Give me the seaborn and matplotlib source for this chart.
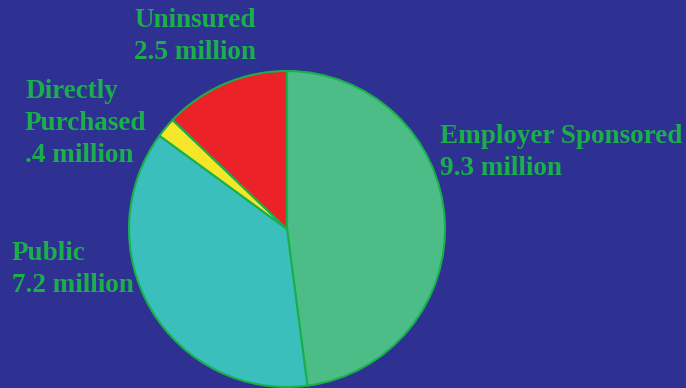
import matplotlib
matplotlib.use("Agg")
import matplotlib.pyplot as plt
import seaborn as sns

# Health coverage by source (millions of people)
categories = ["Employer Sponsored", "Public", "Directly\nPurchased", "Uninsured"]
values = [9.3, 7.2, 0.4, 2.5]
value_labels = ["9.3 million", "7.2 million", ".4 million", "2.5 million"]
colors = ["#4DBD88", "#3BBFBC", "#F5E629", "#EC2229"]

BG = "#2E3192"
TEXT = "#1BAF4B"
EDGE = "#18B04A"

sns.set_style("white")
plt.rcParams["font.family"] = ["Liberation Serif", "DejaVu Serif"]

W, H = 686, 388
fig = plt.figure(figsize=(W / 100, H / 100), dpi=100, facecolor=BG)

# pie centred at (287, 229) px with radius 158 px
cx, cy, r = 287, 229, 158
ax = fig.add_axes([(cx - r) / W, (H - cy - r) / H, 2 * r / W, 2 * r / H])
ax.set_facecolor(BG)
wedges, _ = ax.pie(values, colors=colors, startangle=90, counterclock=False,
                   wedgeprops=dict(edgecolor=EDGE, linewidth=1.5))
for w in wedges:
    w.set_clip_on(False)
ax.set_xlim(-1, 1)
ax.set_ylim(-1, 1)
ax.set_aspect("equal")
ax.axis("off")

# label blocks, top-left pixel positions
label_pos = {
    "Employer Sponsored": (440, 124),
    "Public": (12, 241),
    "Directly\nPurchased": (25, 79),
    "Uninsured": (134, 8),
}
for cat, val in zip(categories, value_labels):
    x, y = label_pos[cat]
    fig.text(x / W, 1 - y / H, f"{cat}\n{val}", ha="left", va="top",
             color=TEXT, fontsize=19.5, fontweight="bold", linespacing=1.38)

fig.savefig("out.png", dpi=100, facecolor=BG)
